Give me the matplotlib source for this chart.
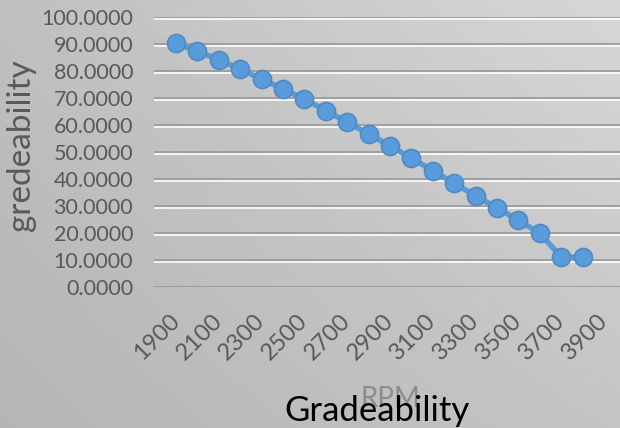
import numpy as np
import matplotlib
matplotlib.use("Agg")
import matplotlib.pyplot as plt
import matplotlib.patheffects as pe

plt.rcParams['font.family'] = ['Lato', 'DejaVu Sans']

# RPM categories on the axis and gradeability per step
rpm_labels = [str(r) for r in range(1900, 4000, 100)]
gradeability = [90.2, 87.4, 84.1, 80.7, 77.0, 73.4, 69.6, 65.3, 61.1, 56.7,
                52.3, 47.7, 43.1, 38.4, 33.8, 29.3, 24.7, 19.9, 11.1, 11.1]
y_ticks = [0, 10, 20, 30, 40, 50, 60, 70, 80, 90, 100]

fig = plt.figure(figsize=(6.2, 4.28), dpi=100)

# gray gradient backdrop, lighter towards the upper right
bg = fig.add_axes([0, 0, 1, 1], zorder=-10)
gx, gy = np.meshgrid(np.linspace(0, 1, 200), np.linspace(0, 1, 200))
tl, tr, bl, br = 0.75, 0.84, 0.71, 0.77
shade = (tl * (1 - gx) * (1 - gy) + tr * gx * (1 - gy)
         + bl * (1 - gx) * gy + br * gx * gy)
bg.imshow(shade, cmap='gray', vmin=0, vmax=1, aspect='auto',
          extent=[0, 1, 0, 1], origin='upper')
bg.axis('off')

ax = fig.add_axes([154 / 620, 141 / 428, 466 / 620, 270 / 428])
ax.patch.set_alpha(0)
for s in ax.spines.values():
    s.set_visible(False)

x = np.arange(len(gradeability))
for v in y_ticks:
    ax.axhline(v, color='#9c9c9c', lw=1.3, zorder=1,
               path_effects=[pe.SimpleLineShadow(offset=(0, -1.2), shadow_color='white', alpha=0.9),
                             pe.Normal()])

ax.plot(x, gradeability, color='#5b9bd5', lw=4, marker='o', ms=13,
        markerfacecolor='#5a9bdc', markeredgecolor='#4f8ac4', markeredgewidth=1.2,
        zorder=3)

ax.set_xlim(-1.03, 20.75)
ax.set_ylim(0, 100)
ax.set_yticks(y_ticks)
ax.set_yticklabels(['%.4f' % v for v in y_ticks], fontsize=15.5, color='#595959')
ax.set_xticks(np.arange(0, len(rpm_labels), 2))
ax.set_xticklabels(rpm_labels[::2], fontsize=17, color='#595959',
                   rotation=45, ha='right', va='center', rotation_mode='anchor')
ax.tick_params(length=0, pad=15, axis='y')
ax.tick_params(length=0, pad=22, axis='x')

fig.text(0.034, 0.66, 'gredeability', rotation=90, ha='center', va='center',
         fontsize=24, color='#595959')
fig.text(0.629, 0.068, 'RPM', ha='center', va='center', fontsize=20,
         color='#8c8c8c', zorder=1)
fig.text(0.608, 0.04, 'Gradeability', ha='center', va='center', fontsize=25,
         color='black', zorder=2)

fig.savefig('out.png', dpi=100)
